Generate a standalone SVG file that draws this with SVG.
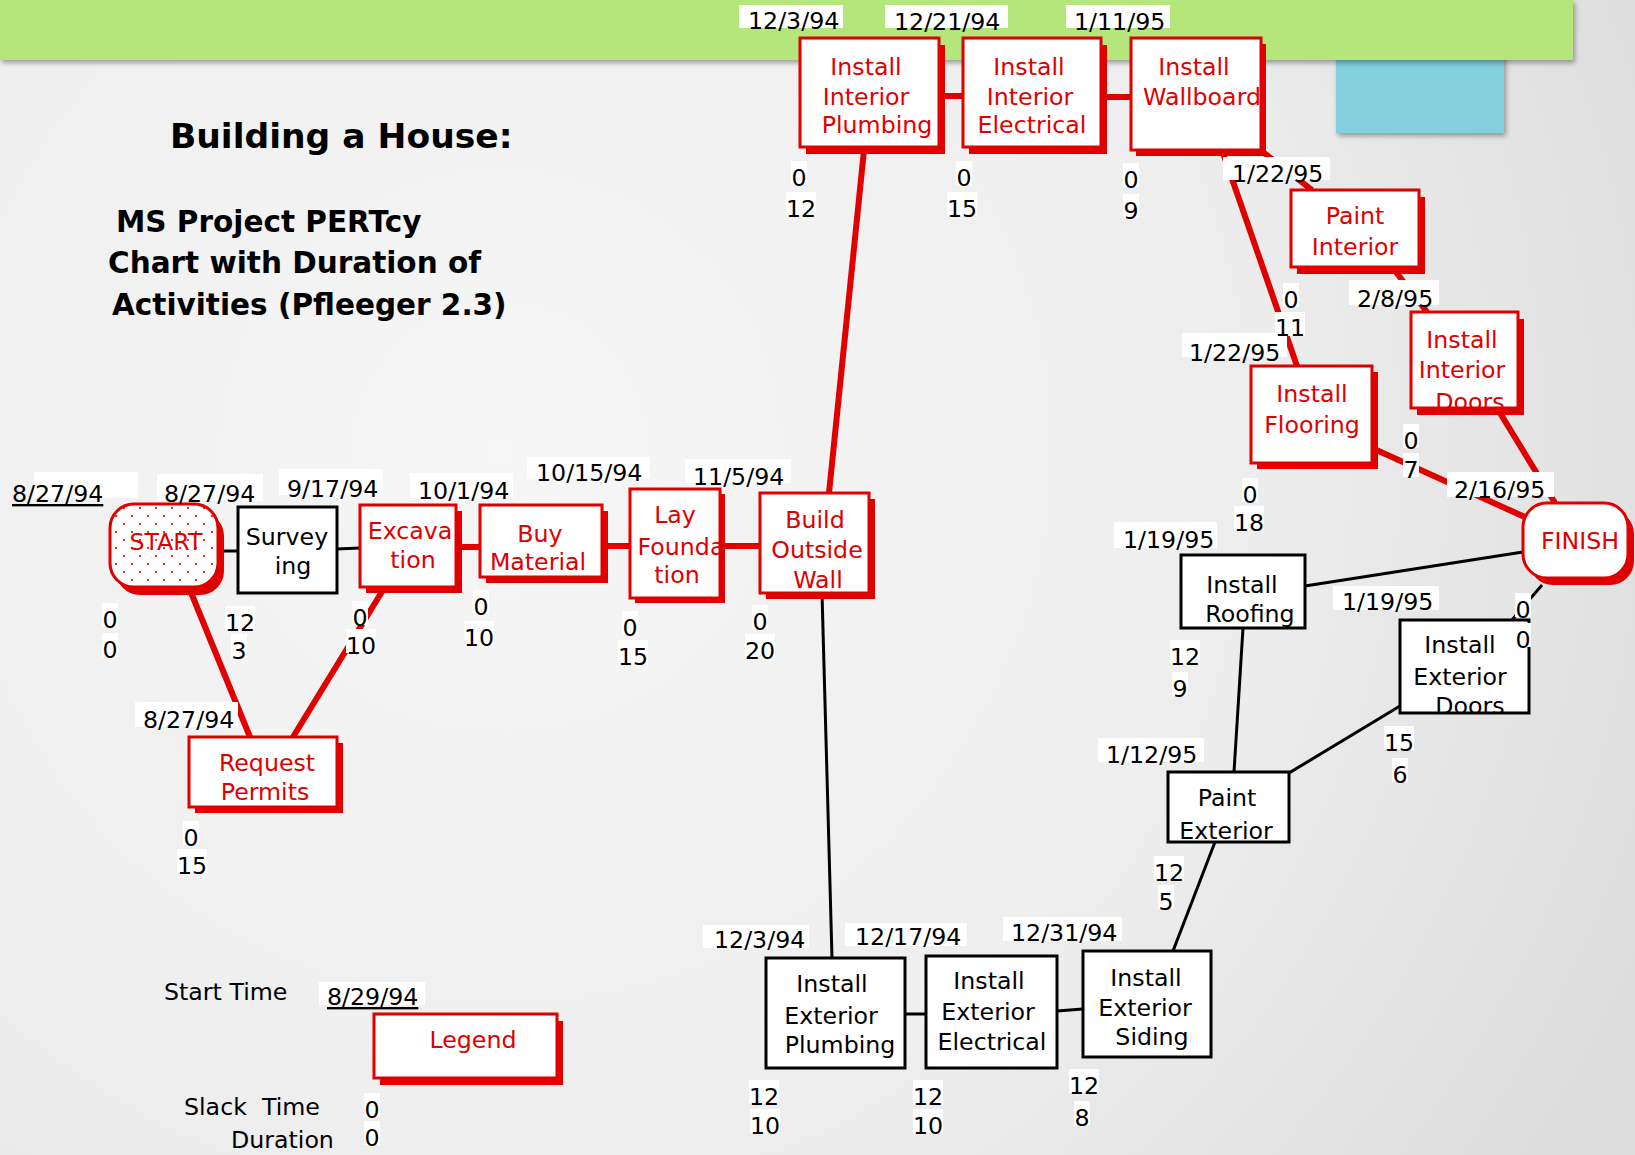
<svg xmlns="http://www.w3.org/2000/svg" width="1635" height="1155" viewBox="0 0 1635 1155">
  <defs>
    <radialGradient id="bg" cx="500" cy="450" r="1300" gradientUnits="userSpaceOnUse">
      <stop offset="0" stop-color="#f6f6f6"/>
      <stop offset="0.55" stop-color="#eeeeee"/>
      <stop offset="1" stop-color="#dcdcdc"/>
    </radialGradient>
    <pattern id="dots" width="16" height="16" patternUnits="userSpaceOnUse">
      <rect width="16" height="16" fill="#ffffff"/>
      <circle cx="4" cy="4" r="1.1" fill="#e00000"/>
      <circle cx="12" cy="12" r="1.1" fill="#e00000"/>
    </pattern>
    <filter id="soft" x="-5%" y="-20%" width="110%" height="150%">
      <feDropShadow dx="2" dy="3" stdDeviation="2.5" flood-color="#000000" flood-opacity="0.35"/>
    </filter>
  </defs>
  <style>
    text { font-family: "DejaVu Sans", "Liberation Sans", sans-serif; font-size: 23.7px; }
    .title { font-weight: bold; font-size: 34.5px; fill: #000; }
    .sub { font-weight: bold; font-size: 29.5px; fill: #000; }
    .lbl { fill: #000; }
    .num { fill: #000; text-anchor: middle; }
    .rt { fill: #e00000; text-anchor: middle; }
    .bt { fill: #000; text-anchor: middle; }
    .bg { fill: #ffffff; }
    .rbox { fill: #ffffff; stroke: #e00000; stroke-width: 3; }
    .rsh { fill: #e00000; }
    .bbox { fill: #ffffff; stroke: #000; stroke-width: 3; }
    .rline { stroke: #e00000; stroke-width: 6; fill: none; }
    .bline { stroke: #000; stroke-width: 3; fill: none; }
    .u { text-decoration: underline; }
  </style>

  <!-- page -->
  <rect width="1635" height="1155" fill="url(#bg)"/>
  <rect x="1336" y="40" width="168" height="93" fill="#84d0de" filter="url(#soft)"/>
  <rect x="0" y="0" width="1573" height="60" fill="#b5e67c" filter="url(#soft)"/>

  <!-- heading -->
  <g id="heading">
    <text class="title" x="170" y="148">Building a House:</text>
    <text class="sub" x="116" y="232">MS Project PERTcy</text>
    <text class="sub" x="108" y="273">Chart with Duration of</text>
    <text class="sub" x="112" y="315">Activities (Pfleeger 2.3)</text>
  </g>

  <!-- connectors -->
  <g id="connectors">
    <line class="rline" x1="190" y1="590" x2="250" y2="737"/>
    <line class="rline" x1="293" y1="737" x2="383" y2="590"/>
    <line class="rline" x1="456" y1="547" x2="480" y2="547"/>
    <line class="rline" x1="602" y1="546" x2="630" y2="546"/>
    <line class="rline" x1="720" y1="546" x2="760" y2="546"/>
    <line class="rline" x1="829" y1="493" x2="864" y2="150"/>
    <line class="rline" x1="939" y1="96" x2="963" y2="96"/>
    <line class="rline" x1="1101" y1="97" x2="1131" y2="97"/>
    <line class="rline" x1="1222" y1="150" x2="1297" y2="366"/>
    <line class="rline" x1="1255" y1="146" x2="1312" y2="190"/>
    <line class="rline" x1="1392" y1="267" x2="1427" y2="312"/>
    <line class="rline" x1="1497" y1="408" x2="1555" y2="503"/>
    <line class="rline" x1="1372" y1="448" x2="1527" y2="518"/>
    <line class="bline" x1="218" y1="551" x2="238" y2="551"/>
    <line class="bline" x1="337" y1="549" x2="360" y2="548"/>
    <line class="bline" x1="822" y1="593" x2="832" y2="958"/>
    <line class="bline" x1="905" y1="1014" x2="926" y2="1014"/>
    <line class="bline" x1="1057" y1="1011" x2="1083" y2="1009"/>
    <line class="bline" x1="1173" y1="951" x2="1215" y2="842"/>
    <line class="bline" x1="1234" y1="772" x2="1243" y2="628"/>
    <line class="bline" x1="1289" y1="773" x2="1400" y2="706"/>
    <line class="bline" x1="1305" y1="586" x2="1523" y2="552"/>
    <line class="bline" x1="1512" y1="620" x2="1542" y2="585"/>
  </g>

  <!-- activity nodes -->
  <g id="start">
    <rect class="rsh" x="116" y="512" width="108" height="83" rx="24"/>
    <rect x="110" y="504" width="108" height="83" rx="24" fill="url(#dots)" stroke="#e00000" stroke-width="3"/>
    <text class="rt" x="166" y="550">START</text>
  </g>
  <g id="surveying">
    <rect class="bbox" x="238" y="507" width="99" height="86"/>
    <text class="bt" x="287" y="545">Survey</text>
    <text class="bt" x="293" y="574">ing</text>
  </g>
  <g id="excavation">
    <rect class="rsh" x="366" y="511" width="96" height="82"/>
    <rect class="rbox" x="360" y="505" width="96" height="82"/>
    <text class="rt" x="410" y="539">Excava</text>
    <text class="rt" x="413" y="568">tion</text>
  </g>
  <g id="buy-material">
    <rect class="rsh" x="486" y="511" width="122" height="72"/>
    <rect class="rbox" x="480" y="505" width="122" height="72"/>
    <text class="rt" x="540" y="542">Buy</text>
    <text class="rt" x="538" y="570">Material</text>
  </g>
  <g id="lay-foundation">
    <rect class="rsh" x="635" y="494" width="90" height="109"/>
    <rect class="rbox" x="630" y="489" width="90" height="109"/>
    <text class="rt" x="675" y="523">Lay</text>
    <text class="rt" x="681" y="555">Founda</text>
    <text class="rt" x="677" y="583">tion</text>
  </g>
  <g id="build-outside-wall">
    <rect class="rsh" x="766" y="499" width="109" height="100"/>
    <rect class="rbox" x="760" y="493" width="109" height="100"/>
    <text class="rt" x="815" y="528">Build</text>
    <text class="rt" x="817" y="558">Outside</text>
    <text class="rt" x="818" y="588">Wall</text>
  </g>
  <g id="request-permits">
    <rect class="rsh" x="195" y="743" width="148" height="70"/>
    <rect class="rbox" x="189" y="737" width="148" height="70"/>
    <text class="rt" x="267" y="771">Request</text>
    <text class="rt" x="265" y="800">Permits</text>
  </g>
  <g id="install-interior-plumbing">
    <rect class="rsh" x="806" y="45" width="139" height="109"/>
    <rect class="rbox" x="800" y="38" width="139" height="109"/>
    <text class="rt" x="866" y="75">Install</text>
    <text class="rt" x="866" y="105">Interior</text>
    <text class="rt" x="877" y="133">Plumbing</text>
  </g>
  <g id="install-interior-electrical">
    <rect class="rsh" x="969" y="45" width="138" height="109"/>
    <rect class="rbox" x="963" y="38" width="138" height="109"/>
    <text class="rt" x="1029" y="75">Install</text>
    <text class="rt" x="1030" y="105">Interior</text>
    <text class="rt" x="1032" y="133">Electrical</text>
  </g>
  <g id="install-wallboard">
    <rect class="rsh" x="1136" y="44" width="130" height="112"/>
    <rect class="rbox" x="1131" y="38" width="130" height="112"/>
    <text class="rt" x="1194" y="75">Install</text>
    <text class="rt" x="1202" y="105">Wallboard</text>
  </g>
  <g id="paint-interior">
    <rect class="rsh" x="1297" y="197" width="128" height="77"/>
    <rect class="rbox" x="1291" y="190" width="128" height="77"/>
    <text class="rt" x="1355" y="224">Paint</text>
    <text class="rt" x="1355" y="255">Interior</text>
  </g>
  <g id="install-interior-doors">
    <rect class="rsh" x="1417" y="319" width="107" height="96"/>
    <rect class="rbox" x="1411" y="312" width="107" height="96"/>
    <text class="rt" x="1462" y="348">Install</text>
    <text class="rt" x="1462" y="378">Interior</text>
    <text class="rt" x="1470" y="410">Doors</text>
  </g>
  <g id="install-flooring">
    <rect class="rsh" x="1257" y="372" width="121" height="97"/>
    <rect class="rbox" x="1251" y="366" width="121" height="97"/>
    <text class="rt" x="1312" y="402">Install</text>
    <text class="rt" x="1312" y="433">Flooring</text>
  </g>
  <g id="install-roofing">
    <rect class="bbox" x="1181" y="555" width="124" height="73"/>
    <text class="bt" x="1242" y="593">Install</text>
    <text class="bt" x="1250" y="622">Roofing</text>
  </g>
  <g id="install-exterior-doors">
    <rect class="bbox" x="1400" y="620" width="129" height="93"/>
    <text class="bt" x="1460" y="653">Install</text>
    <text class="bt" x="1460" y="685">Exterior</text>
    <text class="bt" x="1470" y="714">Doors</text>
  </g>
  <g id="paint-exterior">
    <rect class="bbox" x="1168" y="772" width="121" height="70"/>
    <text class="bt" x="1227" y="806">Paint</text>
    <text class="bt" x="1226" y="839">Exterior</text>
  </g>
  <g id="install-exterior-plumbing">
    <rect class="bbox" x="766" y="958" width="139" height="110"/>
    <text class="bt" x="832" y="992">Install</text>
    <text class="bt" x="831" y="1024">Exterior</text>
    <text class="bt" x="840" y="1053">Plumbing</text>
  </g>
  <g id="install-exterior-electrical">
    <rect class="bbox" x="926" y="956" width="131" height="112"/>
    <text class="bt" x="989" y="989">Install</text>
    <text class="bt" x="988" y="1020">Exterior</text>
    <text class="bt" x="992" y="1050">Electrical</text>
  </g>
  <g id="install-exterior-siding">
    <rect class="bbox" x="1083" y="951" width="128" height="106"/>
    <text class="bt" x="1146" y="986">Install</text>
    <text class="bt" x="1145" y="1016">Exterior</text>
    <text class="bt" x="1152" y="1045">Siding</text>
  </g>
  <g id="finish">
    <rect class="rsh" x="1529" y="510" width="105" height="75" rx="24"/>
    <rect class="rbox" x="1523" y="503" width="105" height="75" rx="24"/>
    <text class="rt" x="1580" y="549">FINISH</text>
  </g>

  <!-- dates: early start of each activity -->
  <g id="dates">
    <rect class="bg" x="34" y="472" width="104" height="26"/>
    <text class="lbl u" x="12" y="502">8/27/94</text>
    <rect class="bg" x="157" y="474" width="106" height="27"/>
    <text class="lbl" x="164" y="502">8/27/94</text>
    <rect class="bg" x="279" y="469" width="104" height="26"/>
    <text class="lbl" x="287" y="497">9/17/94</text>
    <rect class="bg" x="410" y="473" width="103" height="25"/>
    <text class="lbl" x="418" y="499">10/1/94</text>
    <rect class="bg" x="527" y="457" width="123" height="22"/>
    <text class="lbl" x="536" y="481">10/15/94</text>
    <rect class="bg" x="685" y="459" width="106" height="24"/>
    <text class="lbl" x="693" y="485">11/5/94</text>
    <rect class="bg" x="739" y="5" width="104" height="23"/>
    <text class="lbl" x="748" y="29">12/3/94</text>
    <rect class="bg" x="885" y="5" width="123" height="23"/>
    <text class="lbl" x="894" y="30">12/21/94</text>
    <rect class="bg" x="1066" y="5" width="104" height="23"/>
    <text class="lbl" x="1074" y="30">1/11/95</text>
    <rect class="bg" x="1223" y="157" width="107" height="23"/>
    <text class="lbl" x="1232" y="182">1/22/95</text>
    <rect class="bg" x="1349" y="280" width="90" height="25"/>
    <text class="lbl" x="1357" y="307">2/8/95</text>
    <rect class="bg" x="1182" y="333" width="105" height="24"/>
    <text class="lbl" x="1189" y="361">1/22/95</text>
    <rect class="bg" x="1447" y="472" width="107" height="25"/>
    <text class="lbl" x="1454" y="498">2/16/95</text>
    <rect class="bg" x="1114" y="522" width="103" height="26"/>
    <text class="lbl" x="1123" y="548">1/19/95</text>
    <rect class="bg" x="1333" y="586" width="106" height="24"/>
    <text class="lbl" x="1342" y="610">1/19/95</text>
    <rect class="bg" x="1098" y="738" width="106" height="24"/>
    <text class="lbl" x="1106" y="763">1/12/95</text>
    <rect class="bg" x="703" y="925" width="106" height="23"/>
    <text class="lbl" x="714" y="948">12/3/94</text>
    <rect class="bg" x="845" y="923" width="122" height="23"/>
    <text class="lbl" x="855" y="945">12/17/94</text>
    <rect class="bg" x="1003" y="917" width="119" height="24"/>
    <text class="lbl" x="1011" y="941">12/31/94</text>
    <rect class="bg" x="135" y="702" width="103" height="25"/>
    <text class="lbl" x="143" y="728">8/27/94</text>
  </g>

  <!-- slack time (upper) and duration (lower) -->
  <g id="slack-duration">
    <rect class="bg" x="102" y="603" width="16" height="24"/><text class="num" x="110" y="628">0</text>
    <rect class="bg" x="102" y="633" width="16" height="24"/><text class="num" x="110" y="658">0</text>
    <rect class="bg" x="225" y="606" width="30" height="24"/><text class="num" x="240" y="631">12</text>
    <rect class="bg" x="231" y="634" width="16" height="24"/><text class="num" x="239" y="659">3</text>
    <rect class="bg" x="352" y="601" width="16" height="24"/><text class="num" x="360" y="626">0</text>
    <rect class="bg" x="346" y="629" width="30" height="24"/><text class="num" x="361" y="654">10</text>
    <rect class="bg" x="473" y="590" width="16" height="24"/><text class="num" x="481" y="615">0</text>
    <rect class="bg" x="464" y="621" width="30" height="24"/><text class="num" x="479" y="646">10</text>
    <rect class="bg" x="622" y="611" width="16" height="24"/><text class="num" x="630" y="636">0</text>
    <rect class="bg" x="618" y="640" width="30" height="24"/><text class="num" x="633" y="665">15</text>
    <rect class="bg" x="752" y="605" width="16" height="24"/><text class="num" x="760" y="630">0</text>
    <rect class="bg" x="745" y="634" width="30" height="24"/><text class="num" x="760" y="659">20</text>
    <rect class="bg" x="183" y="821" width="16" height="24"/><text class="num" x="191" y="846">0</text>
    <rect class="bg" x="177" y="849" width="30" height="24"/><text class="num" x="192" y="874">15</text>
    <rect class="bg" x="791" y="161" width="16" height="24"/><text class="num" x="799" y="186">0</text>
    <rect class="bg" x="786" y="192" width="30" height="24"/><text class="num" x="801" y="217">12</text>
    <rect class="bg" x="956" y="161" width="16" height="24"/><text class="num" x="964" y="186">0</text>
    <rect class="bg" x="947" y="192" width="30" height="24"/><text class="num" x="962" y="217">15</text>
    <rect class="bg" x="1123" y="163" width="16" height="24"/><text class="num" x="1131" y="188">0</text>
    <rect class="bg" x="1123" y="194" width="16" height="24"/><text class="num" x="1131" y="219">9</text>
    <rect class="bg" x="1283" y="283" width="16" height="24"/><text class="num" x="1291" y="308">0</text>
    <rect class="bg" x="1275" y="312" width="30" height="24"/><text class="num" x="1290" y="336">11</text>
    <rect class="bg" x="1242" y="478" width="16" height="24"/><text class="num" x="1250" y="503">0</text>
    <rect class="bg" x="1234" y="506" width="30" height="24"/><text class="num" x="1249" y="531">18</text>
    <rect class="bg" x="1403" y="424" width="16" height="24"/><text class="num" x="1411" y="449">0</text>
    <rect class="bg" x="1403" y="453" width="16" height="24"/><text class="num" x="1411" y="478">7</text>
    <rect class="bg" x="1515" y="593" width="16" height="24"/><text class="num" x="1523" y="618">0</text>
    <rect class="bg" x="1515" y="623" width="16" height="24"/><text class="num" x="1523" y="648">0</text>
    <rect class="bg" x="1170" y="640" width="30" height="24"/><text class="num" x="1185" y="665">12</text>
    <rect class="bg" x="1172" y="672" width="16" height="24"/><text class="num" x="1180" y="697">9</text>
    <rect class="bg" x="1384" y="726" width="30" height="24"/><text class="num" x="1399" y="751">15</text>
    <rect class="bg" x="1392" y="758" width="16" height="24"/><text class="num" x="1400" y="783">6</text>
    <rect class="bg" x="1154" y="856" width="30" height="24"/><text class="num" x="1169" y="881">12</text>
    <rect class="bg" x="1158" y="885" width="16" height="24"/><text class="num" x="1166" y="910">5</text>
    <rect class="bg" x="749" y="1080" width="30" height="24"/><text class="num" x="764" y="1105">12</text>
    <rect class="bg" x="750" y="1109" width="30" height="24"/><text class="num" x="765" y="1134">10</text>
    <rect class="bg" x="913" y="1080" width="30" height="24"/><text class="num" x="928" y="1105">12</text>
    <rect class="bg" x="913" y="1109" width="30" height="24"/><text class="num" x="928" y="1134">10</text>
    <rect class="bg" x="1069" y="1069" width="30" height="24"/><text class="num" x="1084" y="1094">12</text>
    <rect class="bg" x="1074" y="1101" width="16" height="24"/><text class="num" x="1082" y="1126">8</text>
  </g>

  <!-- key -->
  <g id="legend">
    <text class="lbl" x="164" y="1000">Start Time</text>
    <rect class="bg" x="319" y="982" width="106" height="23"/>
    <text class="lbl u" x="327" y="1005">8/29/94</text>
    <rect class="rsh" x="380" y="1021" width="183" height="64"/>
    <rect class="rbox" x="374" y="1014" width="183" height="64"/>
    <text class="rt" x="473" y="1048">Legend</text>
    <text class="lbl" x="184" y="1115" style="white-space:pre">Slack  Time</text>
    <text class="lbl" x="231" y="1148">Duration</text>
    <rect class="bg" x="364" y="1093" width="16" height="24"/><text class="num" x="372" y="1118">0</text>
    <rect class="bg" x="364" y="1121" width="16" height="24"/><text class="num" x="372" y="1146">0</text>
  </g>
</svg>
